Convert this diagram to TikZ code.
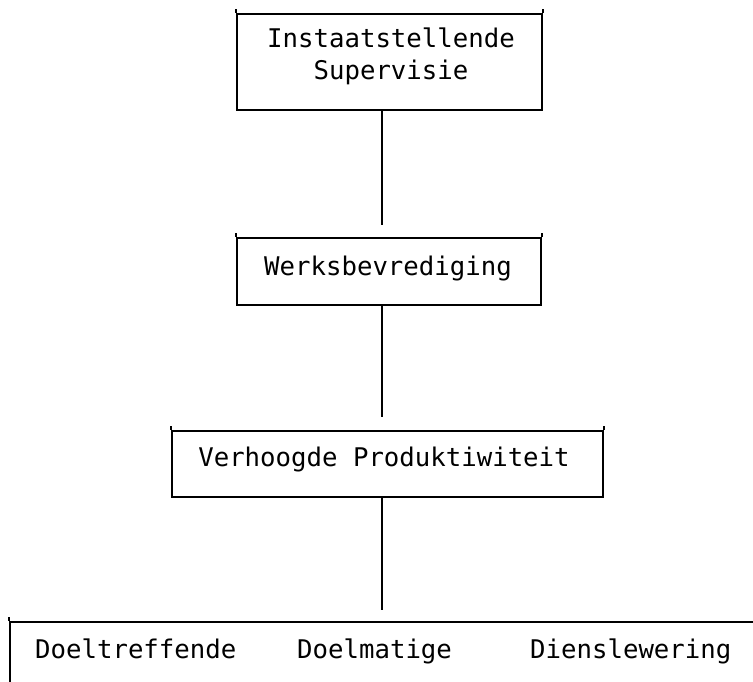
\documentclass[tikz,border=0pt]{standalone}
\usepackage{fontspec}
\newfontfamily\plotfont{DejaVu Sans Mono}
\begin{document}
\begin{tikzpicture}[x=1pt,y=-1pt,
  frame/.style={draw, line width=2.4pt, inner sep=0pt},
  tick/.style={line width=2.4pt},
  caption/.style={font=\plotfont\fontsize{25.7}{32}\selectfont, inner sep=0pt},
  link/.style={line width=2pt}]
\useasboundingbox (0,0) rectangle (753,682);
\clip (0,0) rectangle (753,682);

% boxes
\node[frame, minimum width=305pt, minimum height=96pt] (b1) at (389.5,62) {};
\node[frame, minimum width=304pt, minimum height=67pt] (b2) at (389,271.5) {};
\node[frame, minimum width=431pt, minimum height=66pt] (b3) at (387.5,464) {};
\node[frame, minimum width=780pt, minimum height=116pt] (b4) at (400,680) {};

% small overshoots of the vertical edges above the top lines
\foreach \b in {b1,b2,b3} {
  \draw[tick] (\b.north west) -- ++(0,-4);
  \draw[tick] (\b.north east) -- ++(0,-4);
}
\draw[tick] (b4.north west) -- ++(0,-4);

% captions
\node[caption, anchor=base] (t1a) at (391,48) {Instaatstellende};
\node[caption, anchor=base] (t1b) at (391,80) {Supervisie};
\node[caption, anchor=base] (t2) at (388,275) {Werksbevrediging};
\node[caption, anchor=base] (t3) at (384,466) {Verhoogde Produktiwiteit};
\node[caption, anchor=base west] (d1) at (35,658) {Doeltreffende};
\node[caption, anchor=base west] (d2) at (297,658) {Doelmatige};
\node[caption, anchor=base west] (d3) at (530,658) {Dienslewering};

% connectors, each stopping short of the box below
\coordinate (e1) at (382,225);
\coordinate (e2) at (382,417);
\coordinate (e3) at (382,610);
\draw[link] (b1.south -| e1) -- (e1);
\draw[link] (b2.south -| e2) -- (e2);
\draw[link] (b3.south -| e3) -- (e3);
\end{tikzpicture}
\end{document}
